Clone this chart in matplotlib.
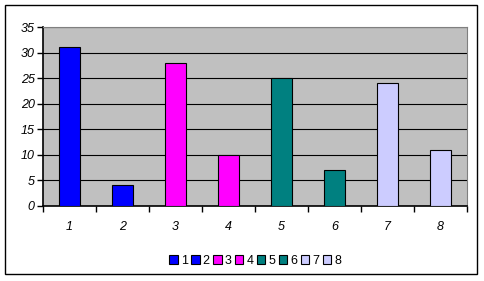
import matplotlib
matplotlib.use("Agg")
import matplotlib.pyplot as plt
from matplotlib.patches import Rectangle, Patch

categories = ["1", "2", "3", "4", "5", "6", "7", "8"]
values = [31, 4, 28, 10, 25, 7, 24, 11]
series_labels = ["1", "2", "3", "4", "5", "6", "7", "8"]
colors = ["#0000FF", "#0000FF", "#FF00FF", "#FF00FF",
          "#008080", "#008080", "#CCCCFF", "#CCCCFF"]
yticks = [0, 5, 10, 15, 20, 25, 30, 35]

plt.rcParams['font.family'] = ['Liberation Sans', 'DejaVu Sans']

W, H = 484, 281
fig = plt.figure(figsize=(W/100, H/100), dpi=100)
fig.patch.set_facecolor("white")

# outer border
fig.patches.append(Rectangle((5/W, 1 - 274/H), (477-5)/W, (274-5)/H,
                             transform=fig.transFigure, fill=False,
                             edgecolor="black", linewidth=1))

left, right, top, bottom = 43, 467, 27, 205.7
ax = fig.add_axes([left/W, 1 - bottom/H, (right-left)/W, (bottom-top)/H])
ax.set_facecolor("#C0C0C0")

xs = list(range(len(categories)))
for i, (v, c, lab) in enumerate(zip(values, colors, series_labels)):
    ax.bar(xs[i], v, width=0.4, color=c, edgecolor="black", linewidth=0.8,
           label=lab, zorder=3)

ax.set_xlim(-0.5, len(categories) - 0.5)
ax.set_ylim(0, 35)
ax.set_yticks(yticks)
ax.set_yticklabels([str(t) for t in yticks], fontstyle="italic", fontsize=9)
ax.yaxis.grid(True, color="black", linewidth=0.8, zorder=1)
ax.set_axisbelow(True)

ax.set_xticks([x + 0.5 for x in xs[:-1]] + [-0.5, len(categories) - 0.5])
ax.set_xticklabels([])
ax.set_xticks(xs, minor=True)
ax.set_xticklabels(categories, minor=True, fontstyle="italic", fontsize=9)
ax.tick_params(axis="x", which="minor", length=0, pad=11)
ax.tick_params(axis="x", which="major", length=4, width=1, direction="out")
ax.tick_params(axis="y", length=4, width=1, direction="out", pad=2)

for s in ["top", "right"]:
    ax.spines[s].set_color("#808080")
    ax.spines[s].set_linewidth(0.8)
for s in ["left", "bottom"]:
    ax.spines[s].set_color("black")
    ax.spines[s].set_linewidth(1.2)

handles = [Patch(facecolor=c, edgecolor="black", linewidth=0.8) for c in colors]
fig.legend(handles, series_labels, loc="center", ncol=8,
           bbox_to_anchor=(255/W, 1 - 261/H), frameon=False, fontsize=9,
           handlelength=0.7, handleheight=0.7, handletextpad=0.25,
           columnspacing=0.25, borderpad=0)

fig.savefig("out.png", dpi=100)
